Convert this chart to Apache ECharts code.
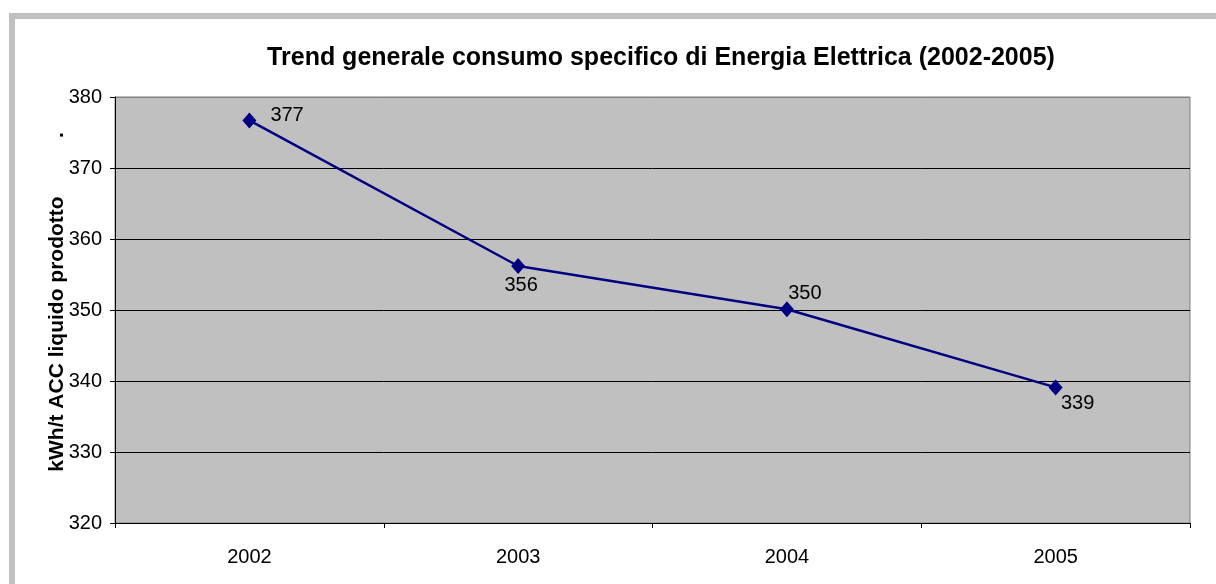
<!DOCTYPE html>
<html>
<head>
<meta charset="UTF-8">
<title>Trend consumo specifico</title>
<script src="https://cdn.jsdelivr.net/npm/echarts@6/dist/echarts.min.js"></script>
<style type="text/css">
  *{margin:0;padding:0;}
  body{width:1216px;height:584px;overflow:hidden;background:#fff;}
  #main{width:1216px;height:584px;position:absolute;top:0;left:0;}
  /* cornice grigia del foglio Excel */
  .cornice{position:absolute;left:9px;top:13px;width:1300px;height:700px;border:6px solid #c0c0c0;pointer-events:none;}
</style>
</head>
<body>
<div id="main"></div>
<div class="cornice"></div>
<script type="text/javascript">
// dati
var anni = ['2002', '2003', '2004', '2005'];
var consumo = [376.7, 356.2, 350.1, 339.1];   // kWh/t
var tickMin = 320, tickMax = 380, tickStep = 10;

var font = "'Liberation Sans', Arial, sans-serif";

// posizione delle etichette come nel foglio originale
var posEtichette = [
  {position: 'right', distance: 14, offset: [0, -5]},
  {position: 'bottom', distance: 2, offset: [3, 0]},
  {position: 'top', distance: 0, offset: [18, 2]},
  {position: 'bottom', distance: 0, offset: [22, -2]}
];

var seriesData = [];
for (var i = 0; i < consumo.length; i++) {
  seriesData.push({value: consumo[i], label: posEtichette[i]});
}

// griglia nera, ultima riga (bordo alto) grigia
var coloriGriglia = [];
for (var v = tickMin; v < tickMax; v += tickStep) coloriGriglia.push('#000');
coloriGriglia.push('#808080');

var myChart = echarts.init(document.getElementById('main'));
var option = {
  backgroundColor: '#fff',
  animation: false,
  title: {
    text: 'Trend generale consumo specifico di Energia Elettrica (2002-2005)',
    left: 661,
    top: 46,
    padding: 0,
    textAlign: 'center',
    textStyle: {fontFamily: font, fontSize: 25, fontWeight: 'bold', color: '#000'}
  },
  grid: {
    left: 115, right: 26, top: 97, bottom: 61,
    show: true,
    backgroundColor: '#c0c0c0',
    borderColor: '#808080',
    borderWidth: 1
  },
  graphic: [
    {
      type: 'text', x: 57, y: 334, rotation: Math.PI / 2,
      style: {text: 'kWh/t ACC liquido prodotto', font: 'bold 21px ' + font,
              fill: '#000', align: 'center', verticalAlign: 'middle'}
    },
    {
      type: 'text', x: 57, y: 135, rotation: Math.PI / 2,
      style: {text: '.', font: 'bold 21px ' + font, fill: '#000',
              align: 'center', verticalAlign: 'middle'}
    }
  ],
  xAxis: {
    type: 'category',
    data: anni,
    boundaryGap: true,
    axisLine: {show: true, lineStyle: {color: '#000', width: 1}},
    axisTick: {show: true, length: 5, lineStyle: {color: '#000'}},
    axisLabel: {margin: 24, fontFamily: font, fontSize: 20, color: '#000'},
    splitLine: {show: false}
  },
  yAxis: {
    type: 'value',
    min: tickMin, max: tickMax, interval: tickStep,
    axisLine: {show: true, lineStyle: {color: '#000', width: 1}},
    axisTick: {show: true, length: 5, lineStyle: {color: '#000'}},
    axisLabel: {margin: 13, fontFamily: font, fontSize: 20, color: '#000'},
    splitLine: {show: true, lineStyle: {color: coloriGriglia, width: 1}}
  },
  series: [{
    type: 'line',
    data: seriesData,
    symbol: 'diamond',
    symbolSize: [14, 16],
    lineStyle: {color: '#000080', width: 2.5},
    itemStyle: {color: '#000080'},
    label: {
      show: true,
      fontFamily: font, fontSize: 20, color: '#000',
      formatter: function (p) { return Math.round(p.value); }
    }
  }]
};
myChart.setOption(option);
</script>
</body>
</html>
